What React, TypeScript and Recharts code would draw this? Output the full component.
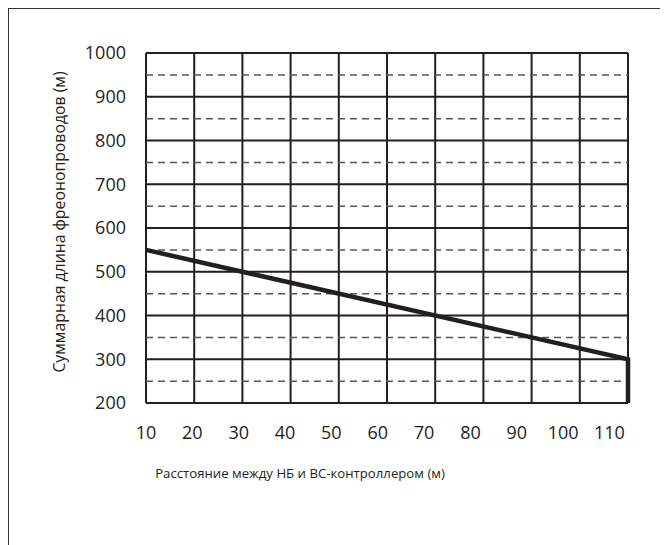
import { LineChart, Line, XAxis, YAxis, CartesianGrid, ReferenceLine } from "recharts";

const distances = [10, 110, 110];
const totalLengths = [550, 300, 200];
const xTicks = [10, 20, 30, 40, 50, 60, 70, 80, 90, 100, 110];
const yTicks = [200, 300, 400, 500, 600, 700, 800, 900, 1000];
const halfSteps = [250, 350, 450, 550, 650, 750, 850, 950];

const xTitle = "Расстояние между НБ и ВС-контроллером (м)";
const yTitle = "Суммарная длина фреонопроводов (м)";

const data = distances.map((d, i) => ({ x: d, y: totalLengths[i] }));

const ink = "#231f20";
const font = "'Open Sans', sans-serif";

const App = () => {
  return (
    <div style={{ position: "relative", width: 660, height: 537, fontFamily: font }}>
      <div
        style={{
          position: "absolute",
          left: -1,
          top: -1,
          width: 662,
          height: 540,
          borderLeft: "2px solid #333",
          borderTop: "2px solid #333",
          boxSizing: "border-box",
        }}
      />
      <LineChart
        width={660}
        height={537}
        data={data}
        margin={{ top: 45, right: 40, left: 58, bottom: 72 }}
        style={{ position: "absolute", left: 0, top: 0 }}
      >
        <CartesianGrid stroke={ink} strokeWidth={2} />
        {halfSteps.map((v) => (
          <ReferenceLine key={v} y={v} stroke="#555" strokeWidth={1.5} strokeDasharray="7 5" />
        ))}
        <XAxis dataKey="x" type="number" domain={[10, 110]} ticks={xTicks} hide height={0} />
        <XAxis
          xAxisId="labels"
          dataKey="x"
          type="number"
          domain={[10, 114]}
          ticks={xTicks}
          allowDataOverflow
          axisLine={false}
          tickLine={false}
          tickSize={0}
          tickMargin={23}
          height={70}
          interval={0}
          tick={{ fill: ink, fontSize: 18, fontFamily: font }}
          label={{
            content: ({ viewBox }: any) => (
              <text
                x={viewBox.x + 154}
                y={viewBox.y + 70}
                textAnchor="middle"
                dominantBaseline="central"
                fill={ink}
                fontSize={13.2}
                fontFamily={font}
              >
                {xTitle}
              </text>
            ),
          }}
        />
        <YAxis
          type="number"
          domain={[200, 1000]}
          ticks={yTicks}
          width={80}
          axisLine={false}
          tickLine={false}
          tickSize={0}
          tickMargin={20}
          tick={{ fill: ink, fontSize: 18, fontFamily: font }}
          label={{
            content: ({ viewBox }: any) => {
              const cx = viewBox.x - 7;
              const cy = viewBox.y + viewBox.height / 2 - 6;
              return (
                <text
                  x={cx}
                  y={cy}
                  transform={`rotate(-90, ${cx}, ${cy})`}
                  textAnchor="middle"
                  dominantBaseline="central"
                  fill={ink}
                  fontSize={15.8}
                  fontFamily={font}
                >
                  {yTitle}
                </text>
              );
            },
          }}
        />
        <Line
          type="linear"
          dataKey="y"
          stroke={ink}
          strokeWidth={4.5}
          dot={false}
          isAnimationActive={false}
        />
      </LineChart>
    </div>
  );
};

export default App;
